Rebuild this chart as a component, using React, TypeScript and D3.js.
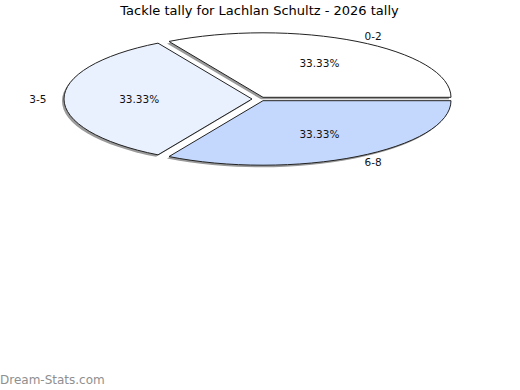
import React, { useRef, useEffect } from 'react';
import * as d3 from 'd3';

const categories = ['0-2', '3-5', '6-8'];
const counts = [1, 1, 1];
const sliceColors = ['#ffffff', '#eaf1fe', '#c4d8fd'];
const explodedCategory = '3-5';

const title = 'Tackle tally for Lachlan Schultz - 2026 tally';
const watermark = 'Dream-Stats.com';

const width = 520;
const height = 390;

export default function App() {
  const svgRef = useRef<SVGSVGElement>(null);

  useEffect(() => {
    const svg = d3.select(svgRef.current);
    svg.selectAll('*').remove();
    svg.attr('width', width).attr('height', height);

    const font = '"DejaVu Sans", sans-serif';
    const cx = 263;
    const cy = 99;
    const rx = 188;
    const ry = 64.5;

    const data = categories.map((c, i) => ({ cat: c, value: counts[i], color: sliceColors[i] }));
    const total = d3.sum(counts);

    // counter-clockwise from 3 o'clock
    const pie = d3.pie<any>()
      .sort(null)
      .value(d => d.value)
      .startAngle(Math.PI / 2)
      .endAngle(Math.PI / 2 - 2 * Math.PI);

    const arcs = pie(data).map(a => {
      const t0 = a.startAngle - Math.PI / 2;
      const t1 = a.endAngle - Math.PI / 2;
      const mid = (t0 + t1) / 2;
      let dx = 0;
      let dy = 0;
      if (a.data.cat === explodedCategory) {
        dx = 11 * Math.cos(mid);
        dy = 11 * Math.sin(mid) * ry / rx;
      } else {
        dy = 1.7 * Math.sign(Math.sin(mid));
      }
      return { ...a, t0, t1, mid, ox: cx + dx, oy: cy + dy };
    });

    const slicePath = (a: any) => {
      const p = d3.path();
      p.moveTo(a.ox, a.oy);
      p.lineTo(a.ox + rx * Math.cos(a.t0), a.oy + ry * Math.sin(a.t0));
      const large = Math.abs(a.t1 - a.t0) > Math.PI ? 1 : 0;
      const x1 = a.ox + rx * Math.cos(a.t1);
      const y1 = a.oy + ry * Math.sin(a.t1);
      return p.toString() + `A${rx},${ry} 0 ${large} 0 ${x1},${y1}Z`;
    };

    svg.append('rect').attr('width', width).attr('height', height).attr('fill', '#ffffff');

    // shadows
    svg.append('g')
      .selectAll('path')
      .data(arcs)
      .enter()
      .append('path')
      .attr('d', d => slicePath(d))
      .attr('transform', 'translate(-2,2)')
      .attr('fill', '#9a9a9a');

    svg.append('g')
      .selectAll('path')
      .data(arcs)
      .enter()
      .append('path')
      .attr('d', d => slicePath(d))
      .attr('fill', d => d.data.color)
      .attr('stroke', '#222')
      .attr('stroke-width', 1)
      .attr('stroke-linejoin', 'miter');

    // percent labels
    svg.append('g')
      .selectAll('text')
      .data(arcs)
      .enter()
      .append('text')
      .attr('x', d => d.ox + 0.6 * rx * Math.cos(d.mid))
      .attr('y', d => d.oy + 0.6 * ry * Math.sin(d.mid))
      .attr('dy', '0.35em')
      .attr('text-anchor', 'middle')
      .attr('font-family', font)
      .attr('font-size', 10.5)
      .attr('fill', '#111')
      .text(d => `${(d.data.value / total * 100).toFixed(2)}%`);

    // category labels
    svg.append('g')
      .selectAll('text')
      .data(arcs)
      .enter()
      .append('text')
      .attr('x', d => d.ox + 1.15 * rx * Math.cos(d.mid) + 2)
      .attr('y', d => d.oy + 1.1 * ry * Math.sin(d.mid))
      .attr('dy', '0.35em')
      .attr('text-anchor', 'middle')
      .attr('font-family', font)
      .attr('font-size', 10.5)
      .attr('fill', '#111')
      .text(d => d.data.cat);

    svg.append('text')
      .attr('x', 259.5)
      .attr('y', 14.5)
      .attr('text-anchor', 'middle')
      .attr('font-family', font)
      .attr('font-size', 13)
      .attr('fill', '#000')
      .text(title);

    svg.append('text')
      .attr('x', 0)
      .attr('y', 384)
      .attr('font-family', font)
      .attr('font-size', 12)
      .attr('fill', '#8f8f8f')
      .text(watermark);
  }, []);

  return (
    <div style={{ position: 'absolute', left: 0, top: 0 }}>
      <svg ref={svgRef} style={{ display: 'block' }} />
    </div>
  );
}
